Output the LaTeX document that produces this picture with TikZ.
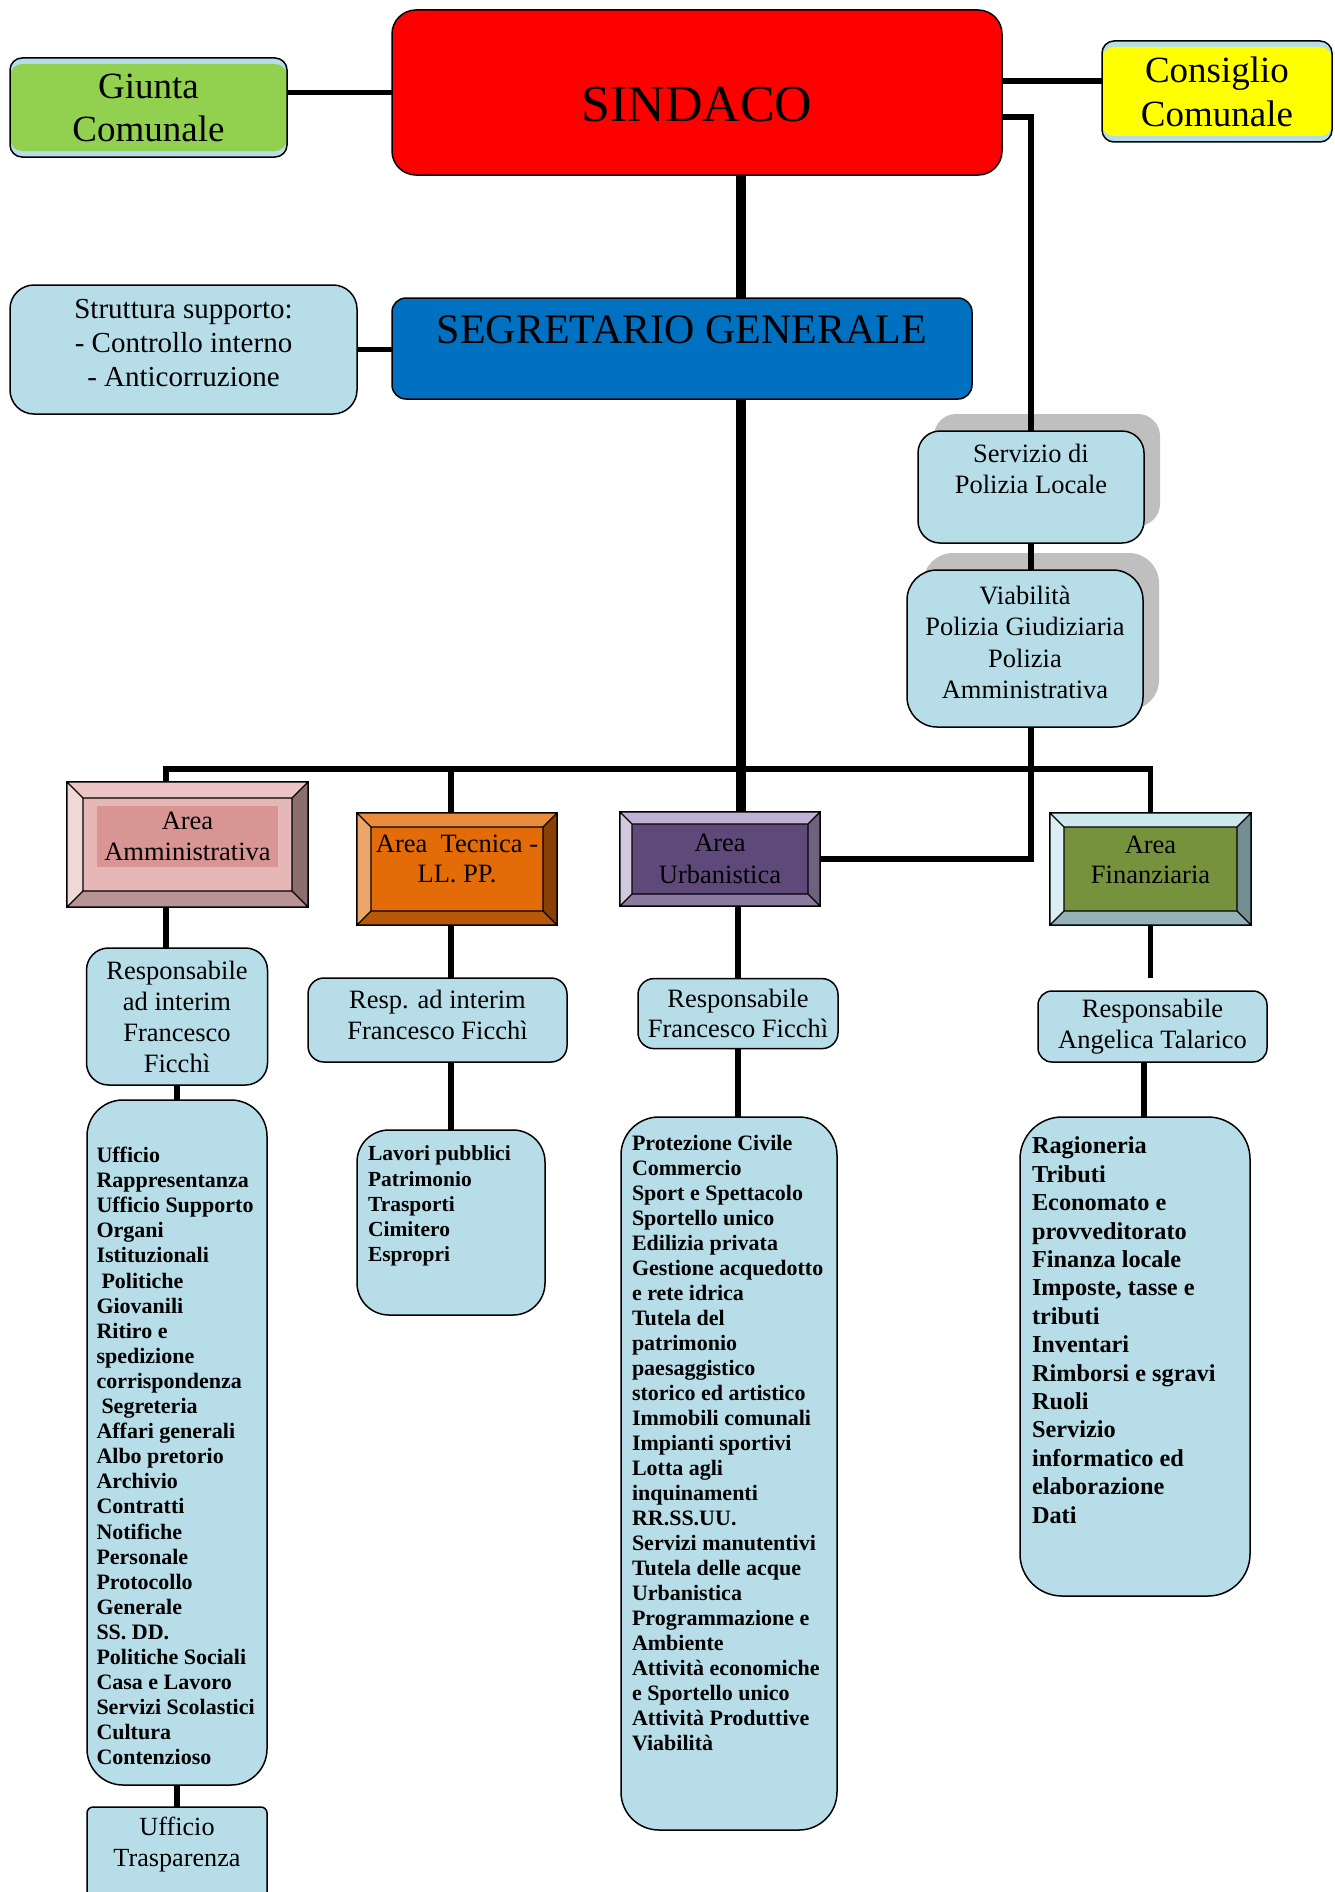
\documentclass[tikz,border=0pt]{standalone}
\usepackage{fontspec}
\setmainfont{Liberation Serif}
\usetikzlibrary{shadows}

\definecolor{boxblue}{HTML}{B7DEE8}
\definecolor{sindred}{HTML}{FF0000}
\definecolor{segrblue}{HTML}{0070C0}
\definecolor{giuntagreen}{HTML}{92D050}
\definecolor{consyellow}{HTML}{FFFF00}
\definecolor{shadowgray}{HTML}{BFBFBF}
% area colours: top, left, right, bottom, face
\definecolor{ammtop}{HTML}{ECC4C4}\definecolor{ammleft}{HTML}{F2D9D9}
\definecolor{ammright}{HTML}{8C6E6E}\definecolor{ammbot}{HTML}{B89494}
\definecolor{ammface}{HTML}{E5B8B7}\definecolor{ammhl}{HTML}{D99594}
\definecolor{tectop}{HTML}{E98C3E}\definecolor{tecleft}{HTML}{EDA66A}
\definecolor{tecright}{HTML}{894006}\definecolor{tecbot}{HTML}{B6570A}
\definecolor{tecface}{HTML}{E36C09}
\definecolor{urbtop}{HTML}{BFB1D4}\definecolor{urbleft}{HTML}{D2C9E0}
\definecolor{urbright}{HTML}{6E6280}\definecolor{urbbot}{HTML}{8C7BA1}
\definecolor{urbface}{HTML}{5F497A}
\definecolor{fintop}{HTML}{CDE8EC}\definecolor{finleft}{HTML}{DAEEF3}
\definecolor{finright}{HTML}{748E92}\definecolor{finbot}{HTML}{93B3B7}
\definecolor{finface}{HTML}{76923C}

\newcommand\fsz[2]{\fontsize{#1}{#2}\selectfont}
% bevelled frame round an area node: node, depth, top, left, right, bottom
\newcommand\bevel[6]{%
  \fill[#3] (#1.north west) -- (#1.north east) -- ([xshift=-#2,yshift=-#2]#1.north east) -- ([xshift=#2,yshift=-#2]#1.north west) -- cycle;
  \fill[#4] (#1.north west) -- (#1.south west) -- ([xshift=#2,yshift=#2]#1.south west) -- ([xshift=#2,yshift=-#2]#1.north west) -- cycle;
  \fill[#5] (#1.north east) -- (#1.south east) -- ([xshift=-#2,yshift=#2]#1.south east) -- ([xshift=-#2,yshift=-#2]#1.north east) -- cycle;
  \fill[#6] (#1.south west) -- (#1.south east) -- ([xshift=-#2,yshift=#2]#1.south east) -- ([xshift=#2,yshift=#2]#1.south west) -- cycle;
  \draw[line width=1.3pt] (#1.north west) rectangle (#1.south east)
    ([xshift=#2,yshift=-#2]#1.north west) rectangle ([xshift=-#2,yshift=#2]#1.south east)
    (#1.north west) -- ([xshift=#2,yshift=-#2]#1.north west)
    (#1.north east) -- ([xshift=-#2,yshift=-#2]#1.north east)
    (#1.south west) -- ([xshift=#2,yshift=#2]#1.south west)
    (#1.south east) -- ([xshift=-#2,yshift=#2]#1.south east);
}

\begin{document}
\begin{tikzpicture}[x=1pt, y=-1pt,
    listbox/.style={draw, line width=1.5pt, fill=boxblue, inner sep=0pt, outer sep=0pt},
    box/.style={listbox, align=center},
    band/.style={path picture={\fill[#1] ([yshift=-6pt]path picture bounding box.north west) rectangle ([yshift=6pt]path picture bounding box.south east);}},
    castshadow/.style={drop shadow={shadow xshift=16pt, shadow yshift=17pt, fill=shadowgray, opacity=1}},
    area/.style={draw, line width=1.3pt, fill=#1, inner sep=0pt, outer sep=0pt},
    txt/.style={align=center, inner sep=0pt},
    link/.style={line width=5.5pt},
    trunk/.style={line width=10pt}
  ]
  \path[fill=white, use as bounding box] (0,0) rectangle (1334,1892);

  % top level
  \node[box, fill=sindred, rounded corners=24pt, minimum width=610pt, minimum height=165pt,
        label={[txt, font=\fsz{52}{60}, yshift=-12pt]center:SINDACO}] (sindaco) at (697,92.5) {};
  \node[box, band=giuntagreen, rounded corners=12pt, minimum width=277pt, minimum height=99pt,
        font=\fsz{37}{43}] (giunta) at (148.5,107.5) {Giunta\\Comunale};
  \node[box, band=consyellow, rounded corners=12pt, minimum width=230pt, minimum height=101pt,
        font=\fsz{37}{44}] (consiglio) at (1217,91.5) {Consiglio\\Comunale};
  \node[box, fill=segrblue, rounded corners=14pt, minimum width=580pt, minimum height=101pt,
        label={[txt, font=\fsz{42}{48}, yshift=18.5pt]center:SEGRETARIO GENERALE}] (segr) at (682,348.5) {};
  \node[box, rounded corners=24pt, minimum width=347pt, minimum height=129pt,
        label={[txt, font=\fsz{29}{34}, yshift=6pt]center:Struttura supporto:\\- Controllo interno\\- Anticorruzione}] (struttura) at (183.5,349.5) {};

  % polizia locale
  \node[box, castshadow, rounded corners=22pt, minimum width=226pt, minimum height=112pt,
        label={[txt, font=\fsz{26.5}{31}, yshift=18.5pt]center:Servizio di\\Polizia Locale}] (polizia) at (1031,487) {};
  \node[box, castshadow, rounded corners=30pt, minimum width=236pt, minimum height=157pt,
        label={[txt, font=\fsz{26.5}{31.3}, yshift=6pt]center:Viabilità\\Polizia Giudiziaria\\Polizia\\Amministrativa}] (viab) at (1025,648.5) {};

  % aree
  \node[area=ammface, minimum width=241pt, minimum height=125pt,
        label={[inner sep=0pt, yshift=8pt]center:\colorbox{ammhl}{\parbox[c][55pt][c]{175pt}{\centering\fsz{26.5}{30.5}Area\\Amministrativa}}}] (amm) at (187.5,844.5) {};
  \node[area=tecface, minimum width=200pt, minimum height=112pt,
        label={[txt, font=\fsz{26.5}{30.5}, yshift=10pt]center:Area\ \ Tecnica -\\LL. PP.}] (tecnica) at (457,869) {};
  \node[area=urbface, minimum width=200pt, minimum height=94pt, align=center,
        font=\fsz{26.5}{32}] (urban) at (720,859) {Area\\Urbanistica};
  \node[area=finface, minimum width=201pt, minimum height=112pt,
        label={[txt, font=\fsz{26.5}{30.5}, yshift=9pt]center:Area\\Finanziaria}] (fin) at (1150.5,869) {};
  \bevel{amm}{16pt}{ammtop}{ammleft}{ammright}{ammbot}
  \bevel{tecnica}{14pt}{tectop}{tecleft}{tecright}{tecbot}
  \bevel{urban}{12pt}{urbtop}{urbleft}{urbright}{urbbot}
  \bevel{fin}{14pt}{fintop}{finleft}{finright}{finbot}

  % responsabili
  \node[box, rounded corners=22pt, minimum width=181pt, minimum height=137pt,
        font=\fsz{26.5}{31}] (respamm) at (177,1016.5) {Responsabile\\ad interim\\Francesco\\Ficchì};
  \node[box, rounded corners=16pt, minimum width=259pt, minimum height=84pt,
        label={[txt, font=\fsz{26.5}{31}, yshift=5pt]center:Resp. ad interim\\Francesco Ficchì}] (resptec) at (437.5,1020) {};
  \node[box, rounded corners=16pt, minimum width=200pt, minimum height=70pt,
        font=\fsz{26.5}{30}] (respurb) at (738,1013.6) {Responsabile\\Francesco Ficchì};
  \node[box, rounded corners=14pt, minimum width=229pt, minimum height=71pt,
        font=\fsz{26.5}{31}] (respfin) at (1152.5,1026.5) {Responsabile\\Angelica Talarico};

  % servizi
  \node[listbox, rounded corners=36pt] (listamm) at (177,1442.5)
    {\hspace*{9.5pt}\parbox[c][685pt][t]{170.5pt}{\fsz{22}{25.1}\bfseries\vspace*{47pt}%
      Ufficio\\Rappresentanza\\Ufficio Supporto\\Organi\\Istituzionali\\\hspace*{5pt}Politiche\\Giovanili\\%
      Ritiro e\\spedizione\\corrispondenza\\\hspace*{5pt}Segreteria\\Affari generali\\Albo pretorio\\%
      Archivio\\Contratti\\Notifiche\\Personale\\Protocollo\\Generale\\SS. DD.\\Politiche Sociali\\%
      Casa e Lavoro\\Servizi Scolastici\\Cultura\\Contenzioso}};
  \node[listbox, rounded corners=32pt] (listtec) at (451,1222.5)
    {\hspace*{11pt}\parbox[c][185pt][t]{177pt}{\fsz{21.5}{25.2}\bfseries\vspace*{16pt}%
      Lavori pubblici\\Patrimonio\\Trasporti\\Cimitero\\Espropri}};
  \node[listbox, rounded corners=38pt] (listurb) at (729,1473.5)
    {\hspace*{11pt}\parbox[c][713pt][t]{205pt}{\fsz{22}{25}\bfseries\vspace*{18pt}%
      Protezione Civile\\Commercio\\Sport e Spettacolo\\Sportello unico\\Edilizia privata\\%
      Gestione acquedotto\\e rete idrica\\Tutela del\\patrimonio\\paesaggistico\\storico ed artistico\\%
      Immobili comunali\\Impianti sportivi\\Lotta agli\\inquinamenti\\RR.SS.UU.\\Servizi manutentivi\\%
      Tutela delle acque\\Urbanistica\\Programmazione e\\Ambiente\\Attività economiche\\%
      e Sportello unico\\Attività Produttive\\Viabilità}};
  \node[listbox, rounded corners=42pt] (listfin) at (1135,1356.5)
    {\hspace*{12pt}\parbox[c][479pt][t]{218pt}{\fsz{24.3}{28.4}\bfseries\vspace*{20pt}%
      Ragioneria\\Tributi\\Economato e\\provveditorato\\Finanza locale\\Imposte, tasse e\\tributi\\%
      Inventari\\Rimborsi e sgravi\\Ruoli\\Servizio\\informatico ed\\elaborazione\\Dati}};
  \node[listbox, rounded corners=6pt, anchor=north] (transp) at (177,1807)
    {\parbox[c][130pt][t]{180pt}{\centering\fsz{26.2}{31}\vspace*{10pt}Ufficio\\Trasparenza}};

  % connectors
  \coordinate (bus) at (741,769);
  \coordinate (finend) at (1152,978);
  \draw[link] (sindaco.west) -- (sindaco.west -| giunta.east);
  \draw[link] (sindaco.east |- 0,81) -- (consiglio.west |- 0,81);
  \draw[link] (sindaco.east |- 0,117) -| (polizia.north);
  \draw[link] (polizia.south) -- (viab.north -| polizia.south);
  \draw[link] (viab.south -| polizia.south) |- (urban.east);
  \draw[trunk] (sindaco.south -| bus) -- (segr.north -| bus);
  \draw[trunk] (segr.south -| bus) -- (urban.north -| bus);
  \draw[link] (struttura.east) -- (struttura.east -| segr.west);
  \draw[link] (amm.north -| 166,0) |- (fin.north |- bus) -- (fin.north);
  \draw[link] (tecnica.north -| listtec.north) -- (bus -| listtec.north);

  \draw[link] (amm.south -| 166,0) -- (respamm.north -| 166,0);
  \draw[link] (respamm.south) -- (listamm.north);
  \draw[link] (listamm.south) -- (transp.north);
  \draw[link] (tecnica.south -| listtec.north) -- (resptec.north -| listtec.north);
  \draw[link] (resptec.south -| listtec.north) -- (listtec.north);
  \draw[link] (urban.south -| respurb.north) -- (respurb.north);
  \draw[link] (respurb.south) -- (listurb.north -| respurb.south);
  \draw[link] (fin.south) -- (fin.south |- finend);
  \draw[link] (respfin.south -| 1144,0) -- (listfin.north -| 1144,0);
\end{tikzpicture}
\end{document}
